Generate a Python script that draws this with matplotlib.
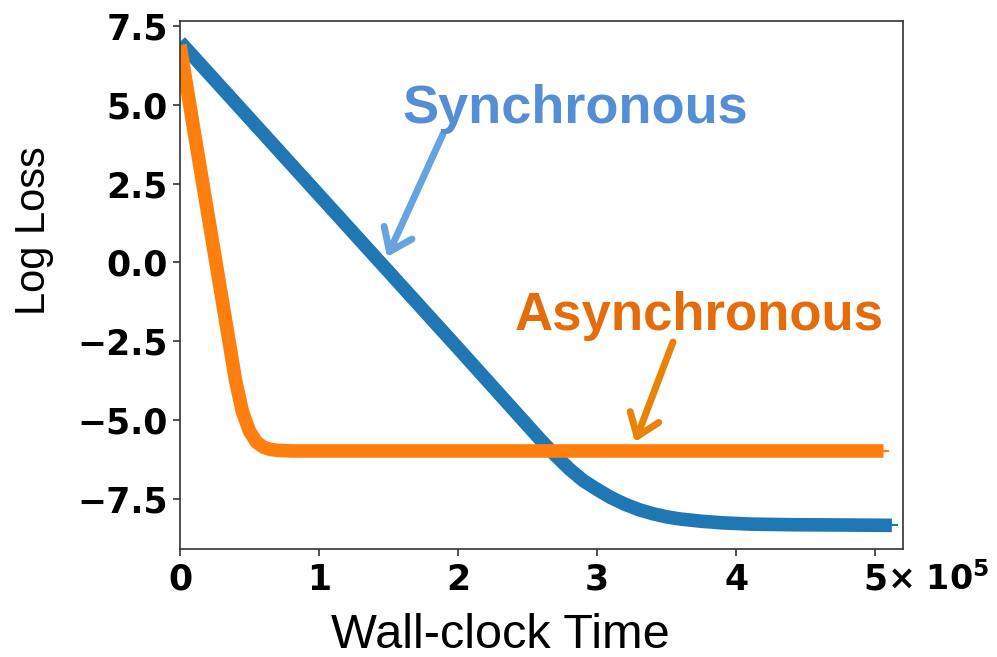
import matplotlib
matplotlib.use('Agg')
import matplotlib.pyplot as plt
from matplotlib import font_manager
from matplotlib.ticker import FuncFormatter

plt.rcParams['mathtext.fontset'] = 'dejavusans'

# data: wall-clock time (seconds) and log loss
sync_time = [0, 0.5e5, 1.0e5, 1.5e5, 2.0e5, 2.6e5, 2.7e5, 2.8e5, 2.9e5, 3.0e5,
             3.1e5, 3.2e5, 3.3e5, 3.4e5, 3.5e5, 3.6e5, 3.75e5, 3.9e5, 4.1e5,
             4.4e5, 4.8e5, 5.12e5, 5.16e5]
sync_loss = [7.0, 4.57, 2.14, -0.29, -2.72, -5.66, -6.12, -6.55, -6.92, -7.2,
             -7.46, -7.67, -7.84, -7.97, -8.07, -8.14, -8.21, -8.26, -8.3,
             -8.32, -8.33, -8.34, -8.34]

async_time = [0, 0.1e5, 0.2e5, 0.3e5, 0.4e5, 0.45e5, 0.5e5, 0.55e5, 0.6e5,
              0.65e5, 0.7e5, 0.8e5, 1.0e5, 2.0e5, 3.0e5, 4.0e5, 5.06e5, 5.09e5]
async_loss = [6.9, 4.2, 1.55, -1.1, -3.75, -4.75, -5.35, -5.7, -5.86,
              -5.93, -5.96, -5.98, -5.98, -5.98, -5.98, -5.98, -5.98, -5.98]

x_ticks = [0, 1e5, 2e5, 3e5, 4e5, 5e5]
y_ticks = [-7.5, -5.0, -2.5, 0.0, 2.5, 5.0, 7.5]

names = {f.name for f in font_manager.fontManager.ttflist}
label_font = 'Liberation Sans Narrow' if 'Liberation Sans Narrow' in names else 'Liberation Sans'

W, H = 997, 657
fig = plt.figure(figsize=(W / 100, H / 100), dpi=100)
fig.patch.set_facecolor('white')
ax = fig.add_axes([180 / W, 1 - 549 / H, (903 - 180) / W, (549 - 21) / H])

blue = '#1f77b4'
orange = '#ff7f0e'

# thick curve plus a thin stub at the very end
ax.plot(sync_time[:-1], sync_loss[:-1], color=blue, lw=9.8,
        solid_capstyle='butt', solid_joinstyle='round')
ax.plot(sync_time[-2:], sync_loss[-2:], color=blue, lw=1.5)
ax.plot(async_time[:-1], async_loss[:-1], color=orange, lw=9.8,
        solid_capstyle='butt', solid_joinstyle='round')
ax.plot(async_time[-2:], async_loss[-2:], color=orange, lw=1.5)

ax.set_xlim(0, 5.2e5)
ax.set_ylim(-9.09, 7.66)
ax.set_xticks(x_ticks)
ax.set_yticks(y_ticks)
ax.xaxis.set_major_formatter(FuncFormatter(lambda v, p: f'{v / 1e5:.0f}'))
ax.yaxis.set_major_formatter(FuncFormatter(lambda v, p: f'{v:.1f}'.replace('-', '\u2212')))

for lab in ax.get_xticklabels() + ax.get_yticklabels():
    lab.set_fontweight('bold')
    lab.set_fontsize(25)
    lab.set_family('DejaVu Sans')
ax.tick_params(axis='both', direction='out', length=5, width=1.2, color='#333333')
ax.tick_params(axis='y', pad=4)
ax.tick_params(axis='x', pad=5)
for sp in ax.spines.values():
    sp.set_color('#333333')
    sp.set_linewidth(1.2)

# exponent written next to the last tick
fig.text(887 / W, 1 - 590 / H, r'$\mathbf{\times\ 10^{5}}$', fontsize=24,
         ha='left', va='baseline')

# axis labels placed by hand
fig.text(500 / W, 1 - 648 / H, 'Wall-clock Time', fontsize=35, family=label_font,
         ha='center', va='baseline')
fig.text(34 / W, 1 - 231 / H, 'Log Loss', fontsize=30, family=label_font,
         rotation=90, ha='center', va='center')

# annotations
fig.text(402 / W, 1 - 123 / H, 'Synchronous', fontsize=39, fontweight='bold',
         family='Liberation Sans', color='#558ED5', ha='left', va='baseline')
fig.text(515 / W, 1 - 330 / H, 'Asynchronous', fontsize=38, fontweight='bold',
         family='Liberation Sans', color='#E46C0A', ha='left', va='baseline')

ax.annotate('', xy=(387, H - 257), xycoords='figure pixels',
            xytext=(443, H - 134), textcoords='figure pixels',
            arrowprops=dict(arrowstyle='->, head_length=0.75, head_width=0.55',
                            mutation_scale=20, lw=5, color='#67A3DF',
                            shrinkA=0, shrinkB=0, capstyle='round', joinstyle='round'))
ax.annotate('', xy=(635, H - 442), xycoords='figure pixels',
            xytext=(673, H - 342), textcoords='figure pixels',
            arrowprops=dict(arrowstyle='->, head_length=0.75, head_width=0.55',
                            mutation_scale=20, lw=5, color='#EA8206',
                            shrinkA=0, shrinkB=0, capstyle='round', joinstyle='round'))

fig.savefig('out.png', dpi=100, facecolor='white')
plt.close(fig)
